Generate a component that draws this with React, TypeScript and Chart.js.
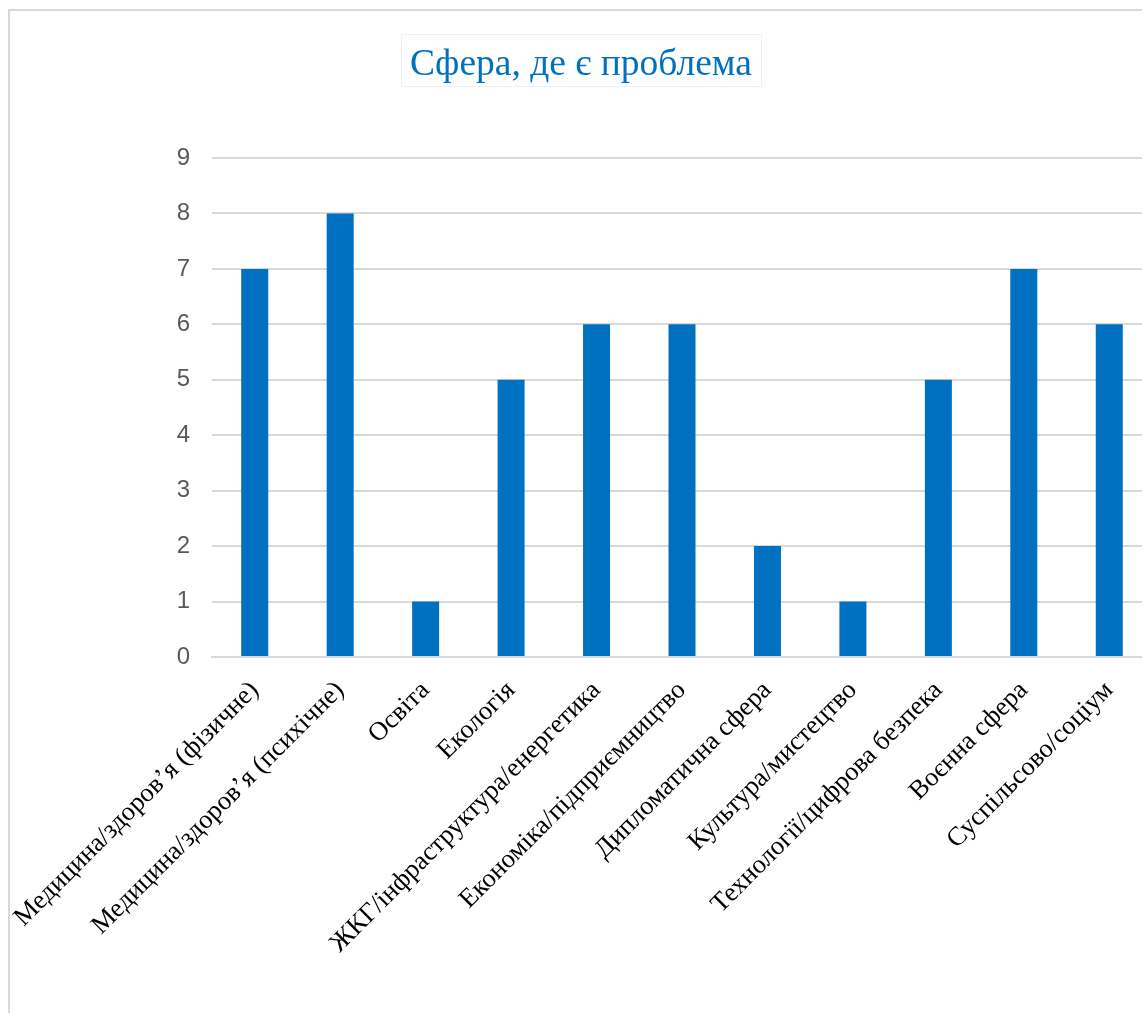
import React, { useEffect, useRef } from "react";
import { Chart, registerables } from "chart.js";

Chart.register(...registerables);

const categories: string[] = [
  "Медицина/здоров’я (фізичне)",
  "Медицина/здоров’я (психічне)",
  "Освіта",
  "Екологія",
  "ЖКГ/інфраструктура/енергетика",
  "Економіка/підприємництво",
  "Дипломатична сфера",
  "Культура/мистецтво",
  "Технології/цифрова безпека",
  "Воєнна сфера",
  "Суспільсово/соціум",
];

const counts: number[] = [7, 8, 1, 5, 6, 6, 2, 1, 5, 7, 6];

const yTicks: number[] = [0, 1, 2, 3, 4, 5, 6, 7, 8, 9];

const chartTitle = "Сфера, де є проблема";

const BAR_COLOR = "#0070C0";
const GRID_COLOR = "#d9d9d9";

// Boxed title drawn above the plot, centred on the whole canvas
const boxedTitle = {
  id: "boxedTitle",
  afterDraw(chart: Chart) {
    const { ctx, width } = chart;
    ctx.save();
    ctx.font = '37.5px "Liberation Serif"';
    ctx.textAlign = "center";
    ctx.textBaseline = "middle";
    const cx = width / 2;
    const cy = 54;
    const w = ctx.measureText(chartTitle).width;
    ctx.strokeStyle = "#f0f0f0";
    ctx.lineWidth = 1;
    ctx.strokeRect(Math.round(cx - w / 2 - 9) + 0.5, 23.5, Math.round(w + 18), 52);
    ctx.fillStyle = BAR_COLOR;
    ctx.fillText(chartTitle, cx, cy);
    ctx.restore();
  },
};

export default function App() {
  const canvasRef = useRef<HTMLCanvasElement | null>(null);

  useEffect(() => {
    if (!canvasRef.current) return;
    const chart = new Chart(canvasRef.current, {
      type: "bar",
      data: {
        labels: categories,
        datasets: [
          {
            data: counts,
            backgroundColor: BAR_COLOR,
            borderWidth: 0,
            categoryPercentage: 1,
            barPercentage: 0.316,
          },
        ],
      },
      options: {
        responsive: false,
        animation: false,
        layout: { padding: { top: 147, left: 0, right: 0, bottom: 0 } },
        plugins: {
          legend: { display: false },
          title: { display: false },
          tooltip: { enabled: false },
        },
        scales: {
          x: {
            grid: { display: false, drawTicks: false },
            border: { display: true, color: GRID_COLOR, width: 2 },
            ticks: {
              autoSkip: false,
              maxRotation: 45,
              minRotation: 45,
              padding: 18,
              color: "#000000",
              font: { family: '"Liberation Serif"', size: 26.5 },
            },
            afterFit(scale: any) {
              scale.height = 356;
              scale.paddingLeft = 0;
              scale.paddingRight = 0;
            },
          },
          y: {
            min: 0,
            max: 9,
            afterBuildTicks(scale: any) {
              scale.ticks = yTicks.map((v) => ({ value: v }));
            },
            grid: { color: GRID_COLOR, lineWidth: 2, drawTicks: false },
            border: { display: false },
            ticks: {
              padding: 22,
              color: "#595959",
              font: { family: '"Liberation Sans"', size: 24 },
            },
            afterFit(scale: any) {
              scale.width = 202;
              scale.paddingTop = 0;
              scale.paddingBottom = 0;
            },
          },
        },
      },
      plugins: [boxedTitle],
    });
    return () => chart.destroy();
  }, []);

  return (
    <div
      style={{
        position: "fixed",
        left: 0,
        top: 0,
        width: "100vw",
        height: "100vh",
        overflow: "hidden",
        background: "#ffffff",
      }}
    >
      <div
        style={{
          position: "absolute",
          left: 8,
          top: 9,
          width: 1200,
          height: 1100,
          borderLeft: "2px solid #d9d9d9",
          borderTop: "2px solid #d9d9d9",
        }}
      >
        <canvas ref={canvasRef} width={1142} height={1002} style={{ display: "block" }} />
      </div>
    </div>
  );
}
